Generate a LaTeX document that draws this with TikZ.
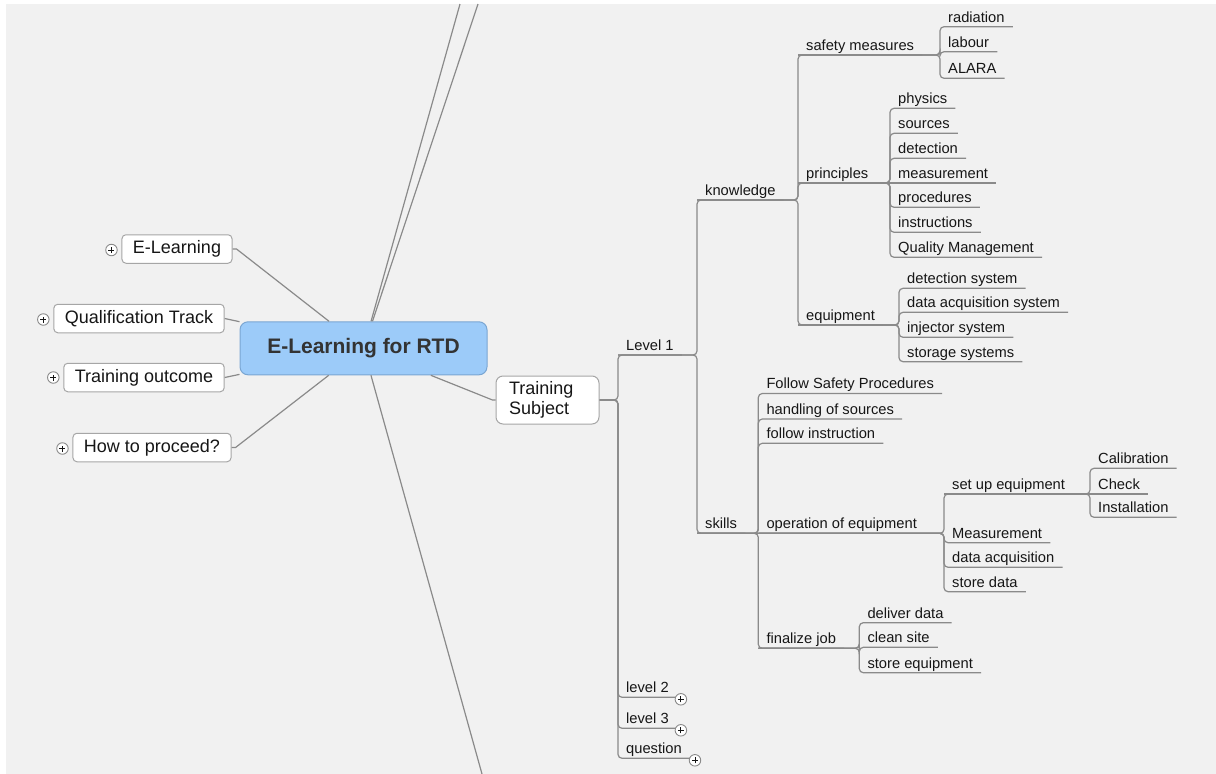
\documentclass[tikz,border=0pt]{standalone}
\usepackage{fontspec}
\setmainfont{Liberation Sans}
\usetikzlibrary{calc}

\definecolor{bg}{HTML}{F1F1F1}
\definecolor{edge}{HTML}{8A8A8A}
\definecolor{txt}{HTML}{161616}
\definecolor{hubfill}{HTML}{9CCBF9}
\definecolor{hubdraw}{HTML}{7AA6D2}
\definecolor{hubtext}{HTML}{333333}
\definecolor{boxdraw}{HTML}{A6A6A6}

% a child hangs off its parent's underline: up/down the parent's bar, then along its own underline
\newcommand\mmbranch[2]{\draw[conn] (#1.south west) -- (#2.south west |- #1.south west) |- (#2.south east);}
% a child that sits on the same line as its parent
\newcommand\mmstraight[2]{\draw[conn] (#1.south west) -- (#2.south east);}

\begin{document}
\begin{tikzpicture}[x=1pt,y=-1pt,
  conn/.style={draw=edge, line width=1.2pt, rounded corners=4pt},
  spoke/.style={draw=edge, line width=1.2pt},
  topic/.style={anchor=south west, inner xsep=8pt, inner ysep=4.5pt, text depth=0pt,
    font=\fontsize{14.7}{17}\selectfont, text=txt},
  mainbox/.style={draw=boxdraw, fill=white, rounded corners=4pt, line width=1pt,
    inner xsep=11pt, minimum height=28.5pt, font=\fontsize{18}{21}\selectfont, text=txt},
  hubbox/.style={draw=hubdraw, fill=hubfill, rounded corners=8pt, line width=1pt,
    minimum width=247pt, minimum height=53pt, font=\fontsize{21}{24}\selectfont\bfseries, text=hubtext},
  subjbox/.style={draw=boxdraw, fill=white, rounded corners=7pt, line width=1pt,
    text width=77pt, inner xsep=13pt, align=left, minimum height=48pt,
    font=\fontsize{18}{20}\selectfont, text=txt},
  toggle/.style={circle, draw=edge, fill=white, line width=0.9pt, minimum size=11.5pt, inner sep=0pt,
    path picture={
      \draw[txt, line width=0.9pt] ([xshift=-3pt]path picture bounding box.center) -- ([xshift=3pt]path picture bounding box.center);
      \draw[txt, line width=0.9pt] ([yshift=-3pt]path picture bounding box.center) -- ([yshift=3pt]path picture bounding box.center);
    }},
]
\useasboundingbox (0,0) rectangle (1216,774);
\fill[white] (0,0) rectangle (1216,774);
\fill[bg] (6,4) rectangle (1216,774);

% ---- central topic and its main branches
\node[hubbox] (hub) at (363.5,348.3) {E-Learning for RTD};

\node[mainbox] (elearn)  at (177,249)   {E-Learning};
\node[mainbox] (qual)    at (139,318.5) {Qualification Track};
\node[mainbox] (outcome) at (144,377.5) {Training outcome};
\node[mainbox] (howto)   at (152,447.5) {How to proceed?};

\node[toggle] (tgA) at ($(elearn.west)+(-10,1)$) {};
\node[toggle] (tgB) at ($(qual.west)+(-10,1)$) {};
\node[toggle] (tgC) at ($(outcome.west)+(-10,0)$) {};
\node[toggle] (tgD) at ($(howto.west)+(-10,1)$) {};

\draw[spoke] (elearn.east) -- ++(4,0) -- (hub);
\draw[spoke] (qual.east) -- (hub);
\draw[spoke] (outcome.east) -- (hub);
\draw[spoke] (howto.east) -- ++(4,0) -- (hub);

\coordinate (offA) at (460,4);
\coordinate (offB) at (478,4);
\coordinate (offC) at (482,774);
\draw[spoke] (hub) -- (offA);
\draw[spoke] (hub) -- (offB);
\draw[spoke] (hub) -- (offC);

\node[subjbox] (subject) at (547.5,400) {Training\\Subject};
\draw[spoke] (hub) -- ($(subject.west)+(-3,0)$) -- (subject.west);

% ---- levels
\node[topic] (lvl1)  at (618,355)   {Level 1};
\node[topic] (lvl2)  at (618,697.3) {level 2};
\node[topic] (lvl3)  at (618,728.3) {level 3};
\node[topic] (quest) at (618,758.3) {question};

\foreach \c in {lvl1,lvl2,lvl3,quest}
  \draw[conn] (subject.east) -- (\c.south west |- subject.east) |- (\c.south east);

\node[toggle] (tgL2) at ($(lvl2.south east)+(4,2)$) {};
\node[toggle] (tgL3) at ($(lvl3.south east)+(4,2)$) {};
\node[toggle] (tgQ)  at ($(quest.south east)+(5,2)$) {};

% ---- Level 1
\node[topic] (know)   at (697,200)   {knowledge};
\node[topic] (skills) at (697,533.3) {skills};
\mmbranch{lvl1}{know}
\mmbranch{lvl1}{skills}

% knowledge
\node[topic] (safety) at (798,55)  {safety measures};
\node[topic] (princ)  at (798,183) {principles};
\node[topic] (equip)  at (798,325) {equipment};
\mmbranch{know}{safety}
\mmbranch{know}{princ}
\mmbranch{know}{equip}

\node[topic] (radiation) at (940,26.7) {radiation};
\node[topic] (labour)    at (940,51.7) {labour};
\node[topic] (alara)     at (940,78.3) {ALARA};
\mmbranch{safety}{radiation}
\mmbranch{safety}{labour}
\mmbranch{safety}{alara}

\node[topic] (physics)  at (890,108.3) {physics};
\node[topic] (sources)  at (890,133.3) {sources};
\node[topic] (detect)   at (890,158.3) {detection};
\node[topic] (measure)  at (890,183)   {measurement};
\node[topic] (proced)   at (890,207.3) {procedures};
\node[topic] (instr)    at (890,232.3) {instructions};
\node[topic] (quality)  at (890,257.3) {Quality Management};
\mmbranch{princ}{physics}
\mmbranch{princ}{sources}
\mmbranch{princ}{detect}
\mmstraight{princ}{measure}
\mmbranch{princ}{proced}
\mmbranch{princ}{instr}
\mmbranch{princ}{quality}

\node[topic] (detsys)  at (899,288.3) {detection system};
\node[topic] (daqsys)  at (899,312.3) {data acquisition system};
\node[topic] (injsys)  at (899,337.3) {injector system};
\node[topic] (storsys) at (899,361.7) {storage systems};
\mmbranch{equip}{detsys}
\mmbranch{equip}{daqsys}
\mmbranch{equip}{injsys}
\mmbranch{equip}{storsys}

% skills
\node[topic] (fsafe)  at (758.3,393.5) {Follow Safety Procedures};
\node[topic] (handle) at (758.3,419)   {handling of sources};
\node[topic] (follow) at (758.3,443.3) {follow instruction};
\node[topic] (oper)   at (758.3,533.3) {operation of equipment};
\node[topic] (final)  at (758.3,648.3) {finalize job};
\mmbranch{skills}{fsafe}
\mmbranch{skills}{handle}
\mmbranch{skills}{follow}
\mmstraight{skills}{oper}
\mmbranch{skills}{final}

\node[topic] (setup) at (944,494)   {set up equipment};
\node[topic] (meas)  at (944,542.7) {Measurement};
\node[topic] (daq)   at (944,567.3) {data acquisition};
\node[topic] (store) at (944,591.7) {store data};
\mmbranch{oper}{setup}
\mmbranch{oper}{meas}
\mmbranch{oper}{daq}
\mmbranch{oper}{store}

\node[topic] (calib)  at (1090,468.3) {Calibration};
\node[topic] (check)  at (1090,494)   {Check};
\node[topic] (install) at (1090,517.3) {Installation};
\mmbranch{setup}{calib}
\mmstraight{setup}{check}
\mmbranch{setup}{install}

\node[topic] (deliver) at (859.3,622.7) {deliver data};
\node[topic] (clean)   at (859.3,647.3) {clean site};
\node[topic] (storeq)  at (859.3,672.7) {store equipment};
\mmbranch{final}{deliver}
\mmbranch{final}{clean}
\mmbranch{final}{storeq}
\end{tikzpicture}
\end{document}
